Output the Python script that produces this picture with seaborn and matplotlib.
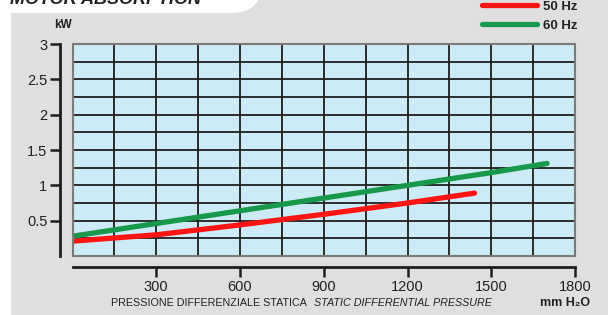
import numpy as np
import pandas as pd
from matplotlib import pyplot as plt
from matplotlib.patches import Rectangle, FancyBboxPatch
from matplotlib.ticker import FuncFormatter
import seaborn as sns

# curve readings (mm H2O -> kW)
p50 = [0, 300, 600, 900, 1200, 1440]
kw50 = [0.21, 0.30, 0.44, 0.59, 0.75, 0.89]
p60 = [0, 300, 600, 900, 1200, 1500, 1700]
kw60 = [0.28, 0.46, 0.64, 0.82, 1.00, 1.18, 1.31]
series = ['50 Hz', '60 Hz']
xticks = [300, 600, 900, 1200, 1500, 1800]
yticks = [0.5, 1, 1.5, 2, 2.5, 3]

df = pd.concat([
    pd.DataFrame({'pressure': p50, 'kw': kw50, 'freq': series[0]}),
    pd.DataFrame({'pressure': p60, 'kw': kw60, 'freq': series[1]}),
])

sns.set_style('white')
plt.rcParams['font.family'] = ['Liberation Sans', 'DejaVu Sans']

W, H = 608, 315
fig = plt.figure(figsize=(W/100, H/100), dpi=100)
fig.patch.set_facecolor('#dfdfdf')

# white strip on the left and title tab on top
fig.patches.append(Rectangle((0, 0), 11/W, 1, transform=fig.transFigure,
                             facecolor='white', edgecolor='none', zorder=0))
fig.patches.append(FancyBboxPatch((-20/W, 1-13/H), 282/W, 60/H, transform=fig.transFigure,
                                  boxstyle='round,pad=0,rounding_size=0.05',
                                  mutation_aspect=W/H,
                                  facecolor='white', edgecolor='none', zorder=0))
fig.text(10/W, 1-4/H, 'MOTOR ABSORPTION', fontsize=13, fontweight='bold',
         fontstyle='italic', color='#222222', va='baseline', ha='left')

ax = fig.add_axes([72.5/W, (H-256)/H, 502.5/W, 212/H])
ax.set_facecolor('#cdebf6')

sns.lineplot(data=df, x='pressure', y='kw', hue='freq',
             palette=['#ff1414', '#18984a'], linewidth=3.8, ax=ax,
             legend=True, zorder=5)

ax.set_xlim(0, 1800)
ax.set_ylim(0, 3)
ax.set_xticks(xticks)
ax.set_yticks(yticks)
ax.yaxis.set_major_formatter(FuncFormatter(lambda v, pos: f'{v:g}'))
ax.set_xticks(np.arange(0, 1801, 150), minor=True)
ax.set_yticks(np.arange(0, 3.01, 0.25), minor=True)
ax.grid(which='both', color='#1e1e1e', linewidth=1.3)
ax.tick_params(which='minor', length=0)
ax.tick_params(which='major', bottom=True, left=True, length=7, width=1.8,
               color='#1e1e1e', labelsize=10.5, labelcolor='#222222')
ax.tick_params(axis='x', pad=2)
ax.tick_params(axis='y', pad=2)

for s in ['top', 'right']:
    ax.spines[s].set_visible(False)
ax.spines['left'].set_position(('outward', 9))
ax.spines['bottom'].set_position(('outward', 8))
for s in ['left', 'bottom']:
    ax.spines[s].set_linewidth(2)
    ax.spines[s].set_color('#1e1e1e')
ax.add_patch(Rectangle((0, 0), 1, 1, transform=ax.transAxes, fill=False,
                       edgecolor='#7a7a7a', linewidth=1.5, zorder=6, clip_on=False))

ax.set_xlabel('')
ax.set_ylabel('')

leg = ax.legend(loc='upper left', bbox_to_anchor=(470/W, 1+11/H),
                bbox_transform=fig.transFigure, frameon=False,
                handlelength=4.2, handletextpad=0.45, labelspacing=0.5,
                prop={'weight': 'bold', 'size': 9.5})
for t in leg.get_texts():
    t.set_color('#222222')
for l in leg.get_lines():
    l.set_linewidth(3.8)

fig.text(54/W, 1-25/H, 'kW', fontsize=8.5, fontweight='bold', color='#222222',
         va='center', ha='left')
fig.text(111/W, 1-303/H, 'PRESSIONE DIFFERENZIALE STATICA', fontsize=7.75,
         color='#222222', va='center', ha='left')
fig.text(314/W, 1-303/H, 'STATIC DIFFERENTIAL PRESSURE', fontsize=7.75,
         fontstyle='italic', color='#222222', va='center', ha='left')
fig.text(590/W, 1-303/H, 'mm H₂O', fontsize=9, fontweight='bold',
         color='#222222', va='center', ha='right')

fig.savefig('out.png', dpi=100, facecolor=fig.get_facecolor())
